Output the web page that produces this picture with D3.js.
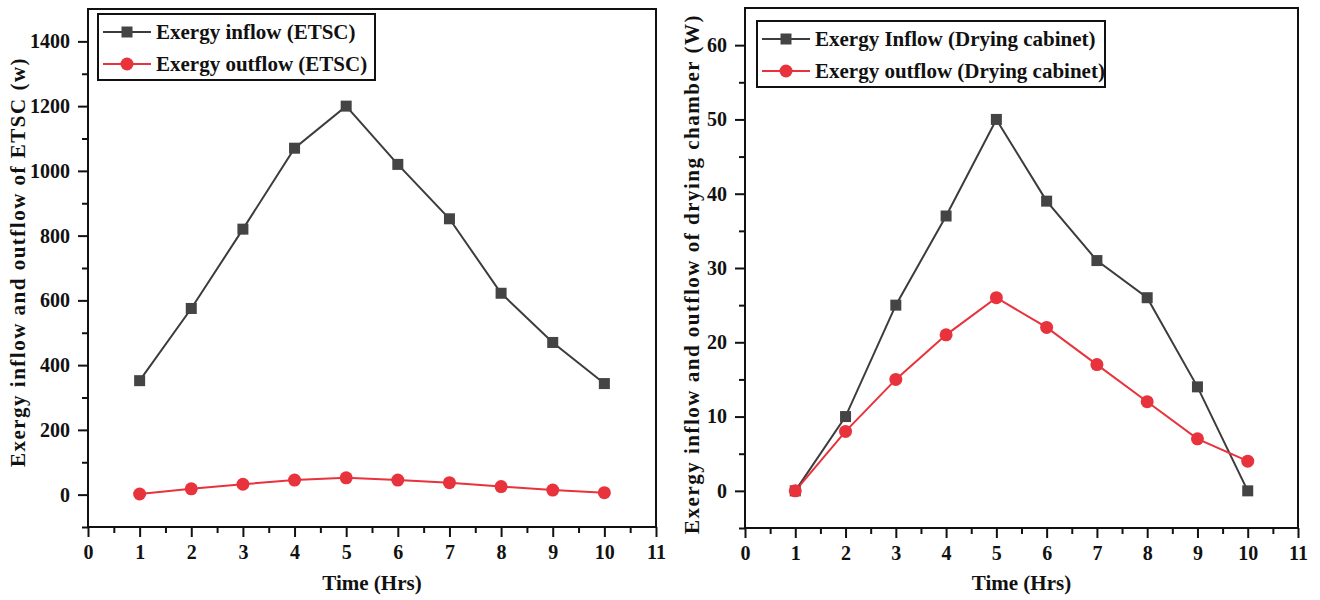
<!DOCTYPE html>
<html>
<head>
<meta charset="utf-8">
<script src="https://cdn.jsdelivr.net/npm/d3@7"></script>
<style>
  body { margin: 0; background: #fff; }
  svg { display: block; font-family: "Liberation Serif", "Times New Roman", serif; font-weight: bold; }
</style>
</head>
<body>
<svg id="chart" width="1320" height="600"></svg>
<script>
const hours = [1, 2, 3, 4, 5, 6, 7, 8, 9, 10];

const etscInflow = [352, 575, 820, 1070, 1200, 1020, 852, 622, 470, 343];
const etscOutflow = [2, 18, 32, 45, 52, 45, 37, 25, 14, 6];

const cabinetInflow = [0, 10, 25, 37, 50, 39, 31, 26, 14, 0];
const cabinetOutflow = [0, 8, 15, 21, 26, 22, 17, 12, 7, 4];

const xTicks = d3.range(0, 12);
const etscTicks = [0, 200, 400, 600, 800, 1000, 1200, 1400];
const cabinetTicks = [0, 10, 20, 30, 40, 50, 60];

const inflowColor = "#3c3c3c";
const outflowColor = "#e8323c";

const svg = d3.select("#chart");

const panels = [
  {
    box: { left: 88, right: 656, top: 9, bottom: 527 },
    yDomain: [-100, 1500],
    yTicks: etscTicks,
    yMinor: d3.range(-100, 1500, 100),
    yTitle: "Exergy inflow and outflow of ETSC (w)",
    yTitleX: 18,
    yTitleY: 262,
    inflow: etscInflow,
    outflow: etscOutflow,
    legend: { x: 98, y: 14, w: 277, h: 66 },
    names: ["Exergy inflow (ETSC)", "Exergy outflow (ETSC)"],
  },
  {
    box: { left: 745, right: 1298, top: 8, bottom: 528 },
    yDomain: [-5, 65],
    yTicks: cabinetTicks,
    yMinor: d3.range(-5, 65, 5),
    yTitle: "Exergy inflow and outflow of drying chamber (W)",
    yTitleX: 692,
    yTitleY: 274,
    inflow: cabinetInflow,
    outflow: cabinetOutflow,
    legend: { x: 757, y: 21, w: 348, h: 66 },
    names: ["Exergy Inflow (Drying cabinet)", "Exergy outflow (Drying cabinet)"],
  },
];

const styleTicks = (sel) =>
  sel.selectAll("text")
    .attr("font-family", "Liberation Serif, serif")
    .attr("font-weight", "bold")
    .attr("font-size", 20)
    .attr("fill", "#111");

panels.forEach((p) => {
  const b = p.box;
  const x = d3.scaleLinear().domain([0, 11]).range([b.left, b.right]);
  const y = d3.scaleLinear().domain(p.yDomain).range([b.bottom, b.top]);

  const g = svg.append("g");

  // frame
  g.append("rect")
    .attr("x", b.left)
    .attr("y", b.top)
    .attr("width", b.right - b.left)
    .attr("height", b.bottom - b.top)
    .attr("fill", "none")
    .attr("stroke", "#111")
    .attr("stroke-width", 2);

  // x axis, minor then major
  g.append("g")
    .attr("transform", `translate(0,${b.bottom})`)
    .call(d3.axisBottom(x).tickValues(d3.range(0.5, 11, 1)).tickSize(6).tickFormat(""))
    .call((a) => a.select(".domain").remove())
    .selectAll("line").attr("stroke", "#111").attr("stroke-width", 2);

  const xa = g.append("g")
    .attr("transform", `translate(0,${b.bottom})`)
    .call(d3.axisBottom(x).tickValues(xTicks).tickSize(10).tickPadding(8).tickFormat(d3.format("d")))
    .call((a) => a.select(".domain").remove());
  xa.selectAll("line").attr("stroke", "#111").attr("stroke-width", 2);
  styleTicks(xa);

  // y axis, minor then major
  g.append("g")
    .attr("transform", `translate(${b.left},0)`)
    .call(d3.axisLeft(y).tickValues(p.yMinor.filter((v) => !p.yTicks.includes(v))).tickSize(6).tickFormat(""))
    .call((a) => a.select(".domain").remove())
    .selectAll("line").attr("stroke", "#111").attr("stroke-width", 2);

  const ya = g.append("g")
    .attr("transform", `translate(${b.left},0)`)
    .call(d3.axisLeft(y).tickValues(p.yTicks).tickSize(10).tickPadding(8).tickFormat(d3.format("d")))
    .call((a) => a.select(".domain").remove());
  ya.selectAll("line").attr("stroke", "#111").attr("stroke-width", 2);
  styleTicks(ya);

  // axis titles
  g.append("text")
    .attr("x", (b.left + b.right) / 2)
    .attr("y", 590)
    .attr("text-anchor", "middle")
    .attr("font-size", 21)
    .attr("fill", "#111")
    .text("Time (Hrs)");

  g.append("text")
    .attr("transform", `translate(${p.yTitleX},${p.yTitleY}) rotate(-90)`)
    .attr("dy", "0.35em")
    .attr("text-anchor", "middle")
    .attr("font-size", 21)
    .attr("letter-spacing", 1.5)
    .attr("fill", "#111")
    .text(p.yTitle);

  const line = d3.line().x((d, i) => x(hours[i])).y((d) => y(d));

  // inflow
  g.append("path")
    .datum(p.inflow)
    .attr("d", line)
    .attr("fill", "none")
    .attr("stroke", inflowColor)
    .attr("stroke-width", 2);

  // outflow
  g.append("path")
    .datum(p.outflow)
    .attr("d", line)
    .attr("fill", "none")
    .attr("stroke", outflowColor)
    .attr("stroke-width", 2);

  g.selectAll(".sq")
    .data(p.inflow)
    .join("rect")
    .attr("class", "sq")
    .attr("x", (d, i) => x(hours[i]) - 5.5)
    .attr("y", (d) => y(d) - 5.5)
    .attr("width", 11)
    .attr("height", 11)
    .attr("fill", "#444");

  g.selectAll(".dot")
    .data(p.outflow)
    .join("circle")
    .attr("class", "dot")
    .attr("cx", (d, i) => x(hours[i]))
    .attr("cy", (d) => y(d))
    .attr("r", 6.5)
    .attr("fill", outflowColor);

  // legend
  const L = p.legend;
  const lg = g.append("g").attr("transform", `translate(${L.x},${L.y})`);
  lg.append("rect")
    .attr("width", L.w)
    .attr("height", L.h)
    .attr("fill", "#fff")
    .attr("stroke", "#111")
    .attr("stroke-width", 2);

  [0, 1].forEach((k) => {
    const cy = 18 + k * 32;
    const col = k === 0 ? inflowColor : outflowColor;
    lg.append("line")
      .attr("x1", 5).attr("x2", 53)
      .attr("y1", cy).attr("y2", cy)
      .attr("stroke", col).attr("stroke-width", 2);
    if (k === 0) {
      lg.append("rect").attr("x", 23.5).attr("y", cy - 5.5).attr("width", 11).attr("height", 11).attr("fill", "#444");
    } else {
      lg.append("circle").attr("cx", 29).attr("cy", cy).attr("r", 6.5).attr("fill", outflowColor);
    }
    lg.append("text")
      .attr("x", 58)
      .attr("y", cy)
      .attr("dy", "0.35em")
      .attr("font-size", 21)
      .attr("fill", "#111")
      .text(p.names[k]);
  });
});
</script>
</body>
</html>
